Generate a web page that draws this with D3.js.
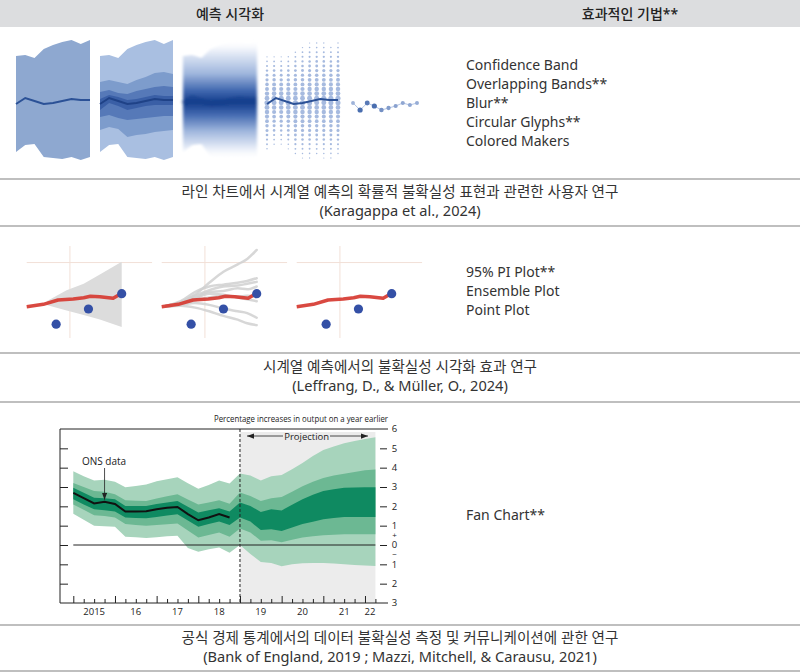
<!DOCTYPE html>
<html>
<head>
<meta charset="utf-8">
<script src="https://cdn.jsdelivr.net/npm/d3@7"></script>
<style>
  body { margin: 0; background: #fff; }
  svg { display: block; }
  text { font-family: "Noto Sans", "Noto Sans CJK KR", sans-serif; }
  .fan text { font-family: "Open Sans", "Liberation Sans", sans-serif; }
</style>
</head>
<body>
<svg id="fig" width="800" height="672"></svg>
<script>
// ---- texts ----
var headers = ["예측 시각화", "효과적인 기법**"];
var techniques1 = ["Confidence Band", "Overlapping Bands**", "Blur**", "Circular Glyphs**", "Colored Makers"];
var caption1 = ["라인 차트에서 시계열 예측의 확률적 불확실성 표현과 관련한 사용자 연구", "(Karagappa et al., 2024)"];
var techniques2 = ["95% PI Plot**", "Ensemble Plot", "Point Plot"];
var caption2 = ["시계열 예측에서의 불확실성 시각화 효과 연구", "(Leffrang, D., & Müller, O., 2024)"];
var techniques3 = ["Fan Chart**"];
var caption3 = ["공식 경제 통계에서의 데이터 불확실성 측정 및 커뮤니케이션에 관한 연구", "(Bank of England, 2019 ; Mazzi, Mitchell, & Carausu, 2021)"];

// ---- row 1 thumbnails (offset from forecast centre) ----
var bandSteps = [0, 1, 2, 3, 4, 5, 6, 7, 8];
var outerHi = [44, 45, 42, 51, 55, 58, 60, 56, 60];
var outerLo = [-52, -45, -44, -57, -58, -59, -57, -60, -57];
var midHi = [18, 20, 18, 16, 20, 23, 27, 28, 26];
var midLo = [-30, -27, -29, -37, -35, -34, -32, -31, -30];
var innerHi = [8, 10, 7, 6, 9, 11, 13, 14, 13];
var innerLo = [-17, -15, -18, -20, -19, -18, -17, -16, -16];
var coreHi = [1, 5, 3, 0, 1, 3, 5, 4, 4];
var coreLo = [-10, -3, -6, -10, -8, -6, -5, -5, -5];
var meanLine = [-4, 2, -1, -4, -3, -1, 1, 0, 0];
var markerSteps = [0, 1, 2, 3, 4, 5, 6, 7, 8, 9];
var markerVals = [-3, -10, -3, -6, -10, -8, -6, -3, -5, -3];
var markerCertainty = [0.3, 0.9, 0.8, 0.9, 0.6, 0.5, 0.45, 0.4, 0.4, 0.35];

// ---- row 2 thumbnails ----
var fcT = [0, 1.75, 3.3, 4.9, 6, 6.7, 7.7, 9.1, 10];
var fcVal = [34, 36.6, 41.3, 42.4, 43.8, 45.3, 44.9, 43.2, 48.6];
var obsT = [3.1, 6.5, 10];
var obsVal = [15, 31.5, 48.2];
var piT = [2.1, 4.2, 6, 7.7, 10];
var piHi = [40, 52, 59, 69, 83];
var piLo = [36, 30, 25, 20, 12];
var ensT = [0.5, 2, 3.5, 5, 6.5, 8, 9, 10];
var ensembleRuns = [
  [35, 39, 47, 60, 72, 80, 86, 95.7],
  [35, 40, 50, 56, 58, 60, 62, 65],
  [35, 39, 46, 52, 56, 57, 59, 61],
  [35, 38, 44, 50, 51, 54, 53, 56],
  [35, 37, 41, 44, 46, 45, 46, 45],
  [34, 36, 38, 36, 32, 29, 27, 22],
  [34, 35, 33, 29, 24, 20, 16, 14],
  [35, 38, 43, 48, 47, 44, 42, 40]
];

// ---- fan chart (percentage increase on a year earlier) ----
var fanQuarters = [2015, 2015.25, 2015.5, 2015.75, 2016, 2016.25, 2016.5, 2016.75, 2017, 2017.25,
  2017.5, 2017.75, 2018, 2018.25, 2018.5, 2018.75, 2019, 2019.25, 2019.5, 2019.75,
  2020, 2020.25, 2020.5, 2020.75, 2021, 2021.25, 2021.5, 2021.75, 2022, 2022.25];
var fanOuterHi = [3.81, 3.55, 3.33, 3.38, 3.27, 2.99, 3.05, 3.13, 3.3, 3.4, 3.5, 3.2, 2.91, 3.1, 3.33,
  3.18, 3.7, 3.6, 3.33, 3.55, 3.62, 3.92, 4.24, 4.6, 4.92, 5.1, 5.26, 5.38, 5.48, 5.57];
var fanOuterLo = [1.62, 1.3, 0.99, 0.97, 0.94, 0.43, 0.4, 0.36, 0.4, 0.45, 0.48, -0.15, -0.35, -0.22, -0.13,
  -0.4, 0.0, -0.46, -0.88, -0.93, -1.1, -1.0, -0.95, -0.93, -0.93, -0.96, -1.0, -1.03, -1.06, -1.09];
var fanMidHi = [3.21, 3.0, 2.79, 2.75, 2.62, 2.31, 2.29, 2.27, 2.4, 2.52, 2.62, 2.35, 2.1, 2.2, 2.31,
  2.14, 2.72, 2.53, 2.27, 2.42, 2.48, 2.75, 3.04, 3.27, 3.47, 3.59, 3.69, 3.78, 3.86, 3.9];
var fanMidLo = [2.1, 1.82, 1.54, 1.5, 1.42, 1.08, 1.03, 0.99, 1.03, 1.07, 1.11, 0.75, 0.39, 0.52, 0.65,
  0.43, 0.85, 0.65, 0.22, 0.25, 0.14, 0.27, 0.39, 0.45, 0.51, 0.53, 0.56, 0.56, 0.56, 0.56];
var fanInnerHi = [2.96, 2.7, 2.44, 2.42, 2.36, 2.02, 2.02, 2.02, 2.12, 2.2, 2.27, 1.98, 1.68, 1.8, 1.9,
  1.73, 2.2, 2.02, 1.71, 1.85, 1.79, 2.08, 2.36, 2.6, 2.79, 2.88, 2.96, 2.98, 2.99, 2.99];
var fanInnerLo = [2.36, 2.1, 1.85, 1.8, 1.73, 1.42, 1.4, 1.38, 1.45, 1.52, 1.59, 1.27, 0.94, 1.08, 1.21,
  1.04, 1.42, 1.21, 0.77, 0.82, 0.73, 0.9, 1.08, 1.2, 1.33, 1.4, 1.45, 1.45, 1.45, 1.45];
var onsQuarters = [2015, 2015.25, 2015.5, 2015.75, 2016, 2016.25, 2016.5, 2016.75, 2017, 2017.25,
  2017.5, 2017.75, 2018, 2018.25, 2018.5, 2018.75];
var onsGrowth = [2.7, 2.42, 2.15, 2.24, 2.12, 1.73, 1.73, 1.75, 1.85, 1.93, 1.97, 1.6, 1.28, 1.42, 1.6, 1.42];
var projectionStart = 2019;
var yearLabels = ["2015", "16", "17", "18", "19", "20", "21", "22"];
var yearLabelPos = [2015.5, 2016.5, 2017.5, 2018.5, 2019.5, 2020.5, 2021.5, 2022.12];
var gridTicks = [-2, -1, 0, 1, 2, 3, 4, 5];
var rightTicks = [6, 5, 4, 3, 2, 1, 0, -1, -2, -3];

var svg = d3.select("#fig");
var defs = svg.append("defs");

// ===== header, separators, texts =====
svg.append("rect").attr("width", 800).attr("height", 27).attr("fill", "#dcdddf");
svg.selectAll("text.hdr").data(headers).enter().append("text")
  .attr("class", "hdr")
  .attr("x", (d, i) => i ? 630 : 230)
  .attr("y", 19)
  .attr("text-anchor", "middle")
  .attr("font-size", 14)
  .attr("font-weight", 500)
  .attr("fill", "#222")
  .text(d => d);

svg.selectAll("line.sep").data([179, 226, 353, 402, 625, 671]).enter().append("line")
  .attr("class", "sep")
  .attr("x1", 0).attr("x2", 800)
  .attr("y1", d => d).attr("y2", d => d)
  .attr("stroke", "#aaaaaa").attr("stroke-width", 1.5);

function techList(items, y0) {
  svg.append("g").selectAll("text").data(items).enter().append("text")
    .attr("x", 466)
    .attr("y", (d, i) => y0 + i * 19)
    .attr("font-size", 14)
    .attr("fill", "#333")
    .text(d => d);
}
function caption(lines, y0) {
  svg.append("g").selectAll("text").data(lines).enter().append("text")
    .attr("x", 400)
    .attr("y", (d, i) => y0 + i * 19)
    .attr("text-anchor", "middle")
    .attr("font-size", 14.6)
    .attr("fill", "#333")
    .text(d => d);
}
techList(techniques1, 70);
techList(techniques2, 277);
techList(techniques3, 520);
caption(caption1, 197);
caption(caption2, 372);
caption(caption3, 643);

// ===== row 1 : forecast visualisations =====
var yTop = d3.scaleLinear().domain([-60, 60]).range([160, 40]);
var panelX = [[16, 90], [100, 173], [183, 257], [267, 338]];
function xPanel(i) {
  return d3.scaleLinear().domain(d3.extent(bandSteps)).range(panelX[i]);
}
function band(x, hi, lo) {
  return d3.area()
    .x((d, i) => x(bandSteps[i]))
    .y0((d, i) => yTop(lo[i]))
    .y1((d, i) => yTop(hi[i]))(bandSteps);
}
function meanPath(x) {
  return d3.line().x((d, i) => x(bandSteps[i])).y(d => yTop(d))(meanLine);
}

// confidence band
var x1 = xPanel(0);
svg.append("path").attr("d", band(x1, outerHi, outerLo)).attr("fill", "#8ea8d0");
svg.append("path").attr("d", meanPath(x1)).attr("fill", "none").attr("stroke", "#2b5196").attr("stroke-width", 2);

// overlapping bands
var x2 = xPanel(1);
[[outerHi, outerLo, "#a9bfe1"], [midHi, midLo, "#7d9ccc"], [innerHi, innerLo, "#5679b8"], [coreHi, coreLo, "#3a5fa6"]]
  .forEach(b => svg.append("path").attr("d", band(x2, b[0], b[1])).attr("fill", b[2]));
svg.append("path").attr("d", meanPath(x2)).attr("fill", "none").attr("stroke", "#1f4287").attr("stroke-width", 2);

// blur
var x3 = xPanel(2);
var grad = defs.append("linearGradient").attr("id", "blurGrad")
  .attr("gradientUnits", "userSpaceOnUse")
  .attr("x1", 0).attr("x2", 0).attr("y1", yTop(60)).attr("y2", yTop(-60));
[[0, "#ffffff", 0], [0.1, "#e6ecf7", 1], [0.28, "#9fb6dd", 1], [0.42, "#4269b0", 1], [0.52, "#143d8c", 1],
 [0.62, "#4269b0", 1], [0.76, "#9fb6dd", 1], [0.9, "#e6ecf7", 1], [1, "#ffffff", 0]]
  .forEach(s => grad.append("stop").attr("offset", s[0]).attr("stop-color", s[1]).attr("stop-opacity", s[2]));
defs.append("filter").attr("id", "soft").attr("x", "-10%").attr("y", "-10%").attr("width", "120%").attr("height", "120%")
  .append("feGaussianBlur").attr("stdDeviation", "1.6 1.2");
var blurG = svg.append("g").attr("filter", "url(#soft)");
blurG.append("path").attr("d", band(x3, outerHi, outerLo)).attr("fill", "url(#blurGrad)");
blurG.append("path").attr("d", meanPath(x3)).attr("fill", "none").attr("stroke", "#143d8c")
  .attr("stroke-width", 6).attr("stroke-opacity", 0.5);

// circular glyphs
var x4 = xPanel(3);
var hiAt = d3.scaleLinear().domain(bandSteps).range(outerHi);
var loAt = d3.scaleLinear().domain(bandSteps).range(outerLo);
var meanAt = d3.scaleLinear().domain(bandSteps).range(meanLine);
var glyphCols = d3.range(0, 8.01, 0.8);
var glyphRows = d3.range(-58, 59, 4.6);
var glyphs = [];
glyphCols.forEach(c => glyphRows.forEach(r => {
  if (r <= hiAt(c) && r >= loAt(c)) {
    var m = meanAt(c);
    var half = r > m ? hiAt(c) - m : m - loAt(c);
    glyphs.push({ c: c, r: r, q: Math.abs(r - m) / half });
  }
}));
var rGlyph = d3.scaleLinear().domain([0, 1]).range([2.6, 0.6]);
svg.append("g").selectAll("circle").data(glyphs).enter().append("circle")
  .attr("cx", d => x4(d.c)).attr("cy", d => yTop(d.r))
  .attr("r", d => rGlyph(d.q))
  .attr("fill", "#9cb3dc").attr("fill-opacity", 0.9);
svg.append("path").attr("d", meanPath(x4)).attr("fill", "none").attr("stroke", "#2b5196").attr("stroke-width", 2);

// colored markers
var x5 = d3.scaleLinear().domain(d3.extent(markerSteps)).range([353, 417]);
var markerColor = d3.scaleLinear().domain([0, 1]).range(["#c8d5ee", "#3c62a8"]);
svg.append("path")
  .attr("d", d3.line().x((d, i) => x5(markerSteps[i])).y(d => yTop(d))(markerVals))
  .attr("fill", "none").attr("stroke", "#b3c5e6").attr("stroke-width", 1);
svg.append("g").selectAll("circle").data(markerVals).enter().append("circle")
  .attr("cx", (d, i) => x5(markerSteps[i])).attr("cy", d => yTop(d))
  .attr("r", (d, i) => 1.6 + markerCertainty[i] * 1.1)
  .attr("fill", (d, i) => markerColor(markerCertainty[i]));

// ===== row 2 : uncertainty plots =====
var yMid = d3.scaleLinear().domain([0, 100]).range([338, 246]);
var midX0 = [26.7, 161.7, 296.7];
function xMid(p) { return d3.scaleLinear().domain([0, 10]).range([midX0[p], midX0[p] + 95]); }

midX0.forEach(function (x0, p) {
  var x = xMid(p);
  var g = svg.append("g");
  g.append("line").attr("x1", x(0)).attr("x2", x(13.2)).attr("y1", yMid(82)).attr("y2", yMid(82))
    .attr("stroke", "#f2e0d8").attr("stroke-width", 1);
  g.append("line").attr("x1", x(4.55)).attr("x2", x(4.55)).attr("y1", yMid(0)).attr("y2", yMid(100))
    .attr("stroke", "#f2e0d8").attr("stroke-width", 1);

  if (p === 0) {
    g.append("path")
      .attr("d", d3.area().x((d, i) => x(piT[i])).y0((d, i) => yMid(piLo[i])).y1(d => yMid(d))(piHi))
      .attr("fill", "#dcdcdc");
  }
  if (p === 1) {
    ensembleRuns.forEach(run => g.append("path")
      .attr("d", d3.line().x((d, i) => x(ensT[i])).y(d => yMid(d)).curve(d3.curveMonotoneX)(run))
      .attr("fill", "none").attr("stroke", "#d0d0d0").attr("stroke-opacity", 0.85)
      .attr("stroke-width", 2.5).attr("stroke-linecap", "round"));
  }
  g.append("path")
    .attr("d", d3.line().x((d, i) => x(fcT[i])).y(d => yMid(d))(fcVal))
    .attr("fill", "none").attr("stroke", "#d63a31").attr("stroke-opacity", 0.92)
    .attr("stroke-width", 3.5).attr("stroke-linejoin", "round");
  g.selectAll("circle").data(obsVal).enter().append("circle")
    .attr("cx", (d, i) => x(obsT[i])).attr("cy", d => yMid(d))
    .attr("r", 4.6).attr("fill", "#3450a6");
});

// ===== row 3 : fan chart =====
var fan = svg.append("g").attr("class", "fan");
var xFan = d3.scaleLinear().domain([2015, 2022.25]).range([73.3, 375.4]);
var yFan = d3.scaleLinear().domain([-3, 6]).range([603, 429]);

defs.append("marker").attr("id", "arr")
  .attr("viewBox", "0 0 8 6").attr("refX", 8).attr("refY", 3)
  .attr("markerWidth", 7).attr("markerHeight", 5.5).attr("markerUnits", "userSpaceOnUse")
  .attr("orient", "auto-start-reverse")
  .append("path").attr("d", "M0,0L8,3L0,6Z").attr("fill", "#222");

fan.append("rect")
  .attr("x", xFan(projectionStart)).attr("y", 432)
  .attr("width", xFan(2022.25) - xFan(projectionStart)).attr("height", yFan(-3) - 432)
  .attr("fill", "#ececec");

function fanBand(hi, lo) {
  return d3.area().x((d, i) => xFan(fanQuarters[i])).y0((d, i) => yFan(lo[i])).y1(d => yFan(d))(hi);
}
fan.append("path").attr("d", fanBand(fanOuterHi, fanOuterLo)).attr("fill", "#a7d4bc");
fan.append("path").attr("d", fanBand(fanMidHi, fanMidLo)).attr("fill", "#6cb893");
fan.append("path").attr("d", fanBand(fanInnerHi, fanInnerLo)).attr("fill", "#0f8a61");

fan.append("line").attr("x1", xFan(2015)).attr("x2", xFan(2022.25))
  .attr("y1", yFan(0)).attr("y2", yFan(0)).attr("stroke", "#222").attr("stroke-width", 1);

fan.append("path")
  .attr("d", d3.line().x((d, i) => xFan(onsQuarters[i])).y(d => yFan(d))(onsGrowth))
  .attr("fill", "none").attr("stroke", "#111").attr("stroke-width", 2);

fan.append("line").attr("x1", xFan(projectionStart)).attr("x2", xFan(projectionStart))
  .attr("y1", 429).attr("y2", 603)
  .attr("stroke", "#222").attr("stroke-width", 1).attr("stroke-dasharray", "3,2");

// frame
fan.append("path").attr("d", "M388,429H60V603H388")
  .attr("fill", "none").attr("stroke", "#222").attr("stroke-width", 1);

// axes
var leftAxis = d3.axisLeft(yFan).tickValues(gridTicks).tickSize(-8).tickFormat("");
fan.append("g").attr("transform", "translate(60,0)").call(leftAxis)
  .call(g => g.select(".domain").remove());
var rightAxis = d3.axisRight(yFan).tickValues(gridTicks).tickSize(-7).tickFormat("");
fan.append("g").attr("transform", "translate(387,0)").call(rightAxis)
  .call(g => g.select(".domain").remove());
var bottomAxis = d3.axisBottom(xFan).tickValues(fanQuarters).tickSize(-4).tickFormat("");
fan.append("g").attr("transform", "translate(0,603)").call(bottomAxis)
  .call(g => g.select(".domain").remove())
  .call(g => g.selectAll(".tick line").filter(d => Number.isInteger(d)).attr("y2", -7));
fan.selectAll(".tick line").attr("stroke", "#222");

fan.append("g").selectAll("text").data(yearLabels).enter().append("text")
  .attr("x", (d, i) => xFan(yearLabelPos[i])).attr("y", 614.5)
  .attr("text-anchor", "middle").attr("font-size", 9.5).attr("fill", "#222")
  .text(d => d);
fan.append("g").selectAll("text").data(rightTicks).enter().append("text")
  .attr("x", 394.5).attr("y", d => yFan(d) + 3.3)
  .attr("text-anchor", "middle").attr("font-size", 9.5).attr("fill", "#222")
  .text(d => Math.abs(d));
fan.append("text").attr("x", 394.5).attr("y", yFan(0.5) + 2.6)
  .attr("text-anchor", "middle").attr("font-size", 8).attr("fill", "#222").text("+");
fan.append("text").attr("x", 394.5).attr("y", yFan(-0.5) + 2.6)
  .attr("text-anchor", "middle").attr("font-size", 8).attr("fill", "#222").text("−");

fan.append("text").attr("x", 388).attr("y", 422)
  .attr("text-anchor", "end").attr("font-size", 8.5).attr("fill", "#222")
  .attr("textLength", 174).attr("lengthAdjust", "spacingAndGlyphs")
  .text("Percentage increases in output on a year earlier");

fan.append("text").attr("x", 306.7).attr("y", 439.5)
  .attr("text-anchor", "middle").attr("font-size", 9.5).attr("fill", "#222").text("Projection");
fan.append("line").attr("x1", 283).attr("x2", 247).attr("y1", 436).attr("y2", 436)
  .attr("stroke", "#222").attr("stroke-width", 0.8).attr("marker-end", "url(#arr)");
fan.append("line").attr("x1", 330).attr("x2", 368).attr("y1", 436).attr("y2", 436)
  .attr("stroke", "#222").attr("stroke-width", 0.8).attr("marker-end", "url(#arr)");

fan.append("text").attr("x", 104).attr("y", 465)
  .attr("text-anchor", "middle").attr("font-size", 10).attr("fill", "#222").text("ONS data");
fan.append("line").attr("x1", xFan(2015.75)).attr("x2", xFan(2015.75))
  .attr("y1", 468).attr("y2", yFan(2.24) - 2)
  .attr("stroke", "#222").attr("stroke-width", 0.8).attr("marker-end", "url(#arr)");
</script>
</body>
</html>
